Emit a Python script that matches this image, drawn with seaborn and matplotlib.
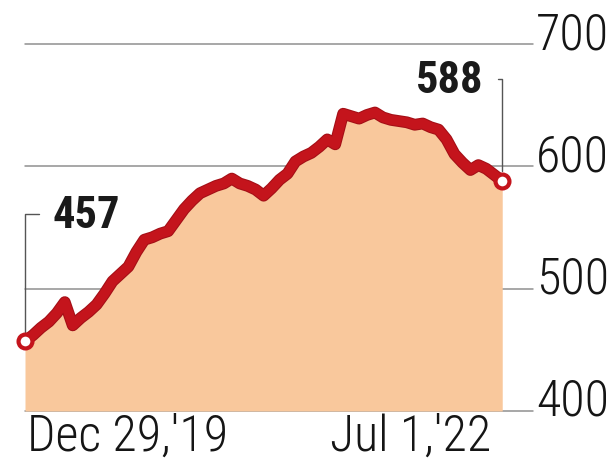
import matplotlib
matplotlib.use("Agg")
import matplotlib.pyplot as plt
import matplotlib.patheffects as pe
from matplotlib import font_manager
import seaborn as sns
import pandas as pd

# data
start_date = "2019-12-29"
end_date = "2022-07-01"
values = [457, 462, 468, 473, 480, 489, 470, 476, 481, 487,
          496, 506, 512, 518, 530, 540, 542, 545, 547, 556,
          565, 572, 578, 581, 584, 586, 590, 586, 584, 581,
          576, 582, 589, 594, 604, 608, 611, 616, 622, 618,
          643, 641, 639, 642, 644, 640, 638, 637, 636, 634,
          635, 632, 630, 622, 610, 603, 597, 601, 598, 593, 588]
y_ticks = [400, 500, 600, 700]
y_labels = ["400", "500", "600", "700"]
x_labels = ["Dec 29,'19", "Jul 1,'22"]
first_label = "457"
last_label = "588"

dates = pd.date_range(start_date, end_date, periods=len(values))
df = pd.DataFrame({"date": dates, "value": values})

sns.set_theme(style="white")
names = {f.name for f in font_manager.fontManager.ttflist}
font = "DejaVu Sans"
for cand in ["Roboto Condensed", "Liberation Sans Narrow"]:
    if cand in names:
        font = cand
        break
plt.rcParams["font.family"] = [font, "DejaVu Sans"]

red = "#C4141C"
fill = "#F9C89C"
grid = "#8f8f8f"
ink = "#151515"

fig = plt.figure(figsize=(6.14, 4.74), dpi=100)
ax = fig.add_axes([25 / 614, 63 / 474, 508 / 614, 367 / 474])
ax.set_xlim(dates[0], dates[-1] + pd.Timedelta(days=59))
ax.set_ylim(400, 700)
for s in ax.spines.values():
    s.set_visible(False)
ax.set_xticks([])
ax.set_yticks([])

for v in y_ticks:
    ax.axhline(v, color=grid, lw=1.1, zorder=1, clip_on=False)

ax.fill_between(df["date"], df["value"], 400, color=fill, lw=0, zorder=2)
sns.lineplot(data=df, x="date", y="value", ax=ax, color=red, lw=7, zorder=3,
             path_effects=[pe.Stroke(linewidth=8.5, foreground="#a30f16"), pe.Normal()])
ax.plot([dates[0], dates[-1]], [values[0], values[-1]], "o", ms=10, mfc="white",
        mec=red, mew=3, zorder=4, clip_on=False)
ax.set_xlabel("")
ax.set_ylabel("")

for v, lab in zip(y_ticks, y_labels):
    ax.annotate(lab, xy=(1, v), xycoords=("axes fraction", "data"), xytext=(3, -5),
                textcoords="offset pixels", ha="left", va="baseline",
                fontsize=36, fontweight="light", color=ink)

ax.annotate(x_labels[0], xy=(dates[0], 0), xycoords=("data", "axes fraction"),
            xytext=(2, -40), textcoords="offset pixels", ha="left", va="baseline",
            fontsize=36, fontweight="light", color=ink)
ax.annotate(x_labels[1], xy=(dates[-1], 0), xycoords=("data", "axes fraction"),
            xytext=(-11, -40), textcoords="offset pixels", ha="right", va="baseline",
            fontsize=36, fontweight="light", color=ink)

ax.annotate(first_label, xy=(dates[0], values[0]), xytext=(28, 125),
            textcoords="offset pixels", ha="left", va="center",
            fontsize=32, fontweight="bold", color="#1a1a1a",
            arrowprops=dict(arrowstyle="-", color="#555555", lw=1,
                            connectionstyle="angle,angleA=0,angleB=90,rad=0",
                            relpos=(0, 0.55), shrinkA=8, shrinkB=7))
ax.annotate(last_label, xy=(dates[-1], values[-1]), xytext=(-19, 100),
            textcoords="offset pixels", ha="right", va="center",
            fontsize=32, fontweight="bold", color="#1a1a1a",
            arrowprops=dict(arrowstyle="-", color="#555555", lw=1,
                            connectionstyle="angle,angleA=0,angleB=90,rad=0",
                            relpos=(1, 0.55), shrinkA=8, shrinkB=7))

fig.savefig("out.png", dpi=100)
